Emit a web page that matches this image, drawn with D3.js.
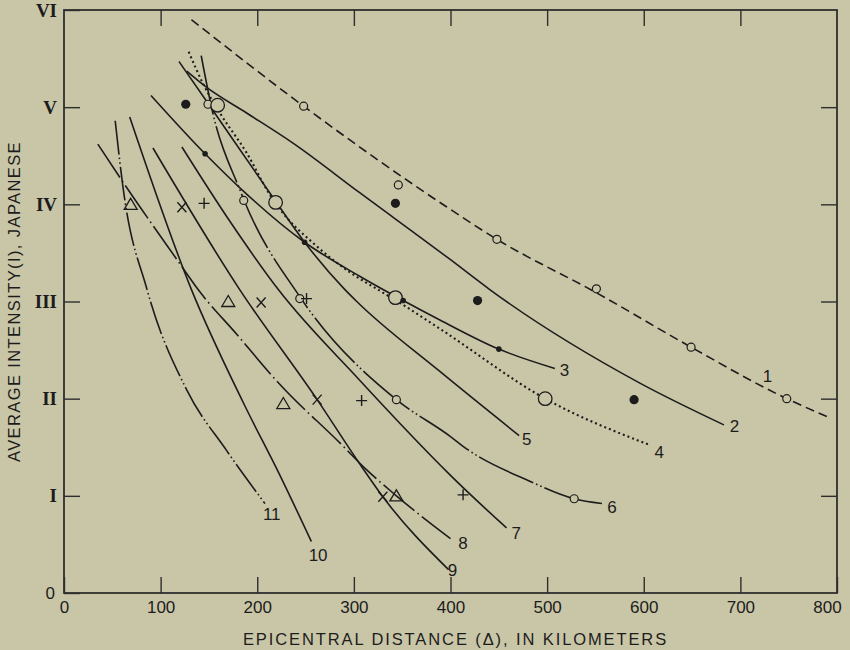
<!DOCTYPE html>
<html>
<head>
<meta charset="utf-8">
<script src="https://cdn.jsdelivr.net/npm/d3@7"></script>
<style>
  body { margin: 0; background: #c9c6a7; }
  .tick-x { font-family: "Liberation Sans", Arial, sans-serif; font-size: 17px; fill: #1c1c1c; }
  .tick-y { font-family: "Liberation Serif", "Times New Roman", serif; font-size: 19px; font-weight: bold; fill: #1c1c1c; }
  .axis-title { font-family: "Liberation Sans", Arial, sans-serif; font-size: 16.5px; letter-spacing: 1.9px; fill: #1c1c1c; }
  .curve-label { font-family: "Liberation Sans", Arial, sans-serif; font-size: 17px; fill: #1c1c1c; }
</style>
</head>
<body>
<div id="chart"></div>
<script>
// ---- data (distance km, intensity) ----
const curve1 = [[132,5.90],[248,5.01],[395,3.98],[448,3.64],[551,3.09],[649,2.53],[748,2.00],[791,1.81]];
const curve2 = [[127,5.37],[148,5.20],[189,4.94],[237,4.63],[306,4.12],[400,3.43],[441,3.12],[596,2.16],[683,1.73]];
const curve3 = [[90,5.12],[146,4.52],[182,4.17],[249,3.61],[306,3.26],[351,3.01],[389,2.81],[450,2.51],[508,2.31]];
const curve4 = [[129,5.57],[144,5.24],[162,4.93],[189,4.53],[213,4.10],[225,3.93],[258,3.60],[296,3.30],[327,3.11],[347,2.99],[389,2.72],[498,2.00],[607,1.52]];
const curve5 = [[119,5.47],[149,5.04],[217,4.06],[249,3.61],[290,3.13],[303,3.00],[389,2.28],[471,1.62]];
const curve6 = [[142,5.53],[154,4.94],[182,4.15],[186,4.05],[244,3.05],[344,1.99],[400,1.61],[413,1.51],[482,1.15],[528,0.97],[557,0.92]];
const curve7 = [[122,4.59],[172,3.82],[222,3.12],[306,2.19],[389,1.32],[400,1.21],[458,0.67]];
const curve8 = [[35,4.62],[61,4.23],[117,3.43],[139,3.12],[179,2.66],[224,2.14],[286,1.54],[313,1.27],[344,1.00],[400,0.56]];
const curve9 = [[92,4.58],[182,3.12],[262,1.99],[306,1.33],[330,0.99],[398,0.24]];
const curve10 = [[68,4.90],[132,3.12],[186,1.95],[224,1.20],[256,0.53]];
const curve11 = [[53,4.86],[61,4.18],[86,3.12],[127,2.09],[168,1.47],[208,0.92]];

const curveNames = ["1","2","3","4","5","6","7","8","9","10","11"];
const curveLabelX = [728, 694, 518, 616, 479, 567, 468, 413, 402, 263, 215];
const curveLabelY = [2.23, 1.72, 2.29, 1.45, 1.58, 0.88, 0.62, 0.51, 0.24, 0.39, 0.81];

// observed points
const openSmall = [[248,5.01],[346,4.20],[448,3.64],[551,3.13],[649,2.53],[748,2.00],[149,5.03],[186,4.04],[244,3.03],[344,1.99],[528,0.97]];
const openLarge = [[159,5.02],[219,4.02],[343,3.04],[498,2.00]];
const filledLarge = [[126,5.03],[343,4.01],[428,3.01],[590,1.99]];
const filledSmall = [[146,4.52],[249,3.61],[351,3.01],[450,2.51]];
const crosses = [[122,3.97],[204,2.99],[262,1.99],[330,0.99]];
const pluses = [[145,4.01],[251,3.03],[308,1.98],[413,1.01]];
const triangles = [[69,4.00],[170,3.00],[227,1.95],[344,1.00]];

const xTicks = [0,100,200,300,400,500,600,700,800];
const yTicks = [0,1,2,3,4,5,6];
const yTickLabels = ["0","I","II","III","IV","V","VI"];

//set margin
const margin = { top: 10, right: 13, bottom: 57, left: 64 };
const width = 850;
const height = 650;
const chartwidth = width - margin.left - margin.right;
const chartheight = height - margin.top - margin.bottom;

const svg = d3.select("#chart")
    .append("svg")
    .attr("width", width)
    .attr("height", height)
    .style("background", "#c9c6a7");

const g = svg.append("g")
    .attr("transform", "translate(" + margin.left + "," + margin.top + ")");

const xscale = d3.scaleLinear().domain([0, 800]).range([0, chartwidth]);
const yscale = d3.scaleLinear().domain([0, 6]).range([chartheight, 0]);

const ink = "#1c1c1c";
const tickLen = 16;

// frame
g.append("rect")
    .attr("width", chartwidth)
    .attr("height", chartheight)
    .attr("fill", "none")
    .attr("stroke", "#2e2e2e")
    .attr("stroke-width", 1.8);

// x axis (bottom, ticks pointing in) and mirrored top ticks
const xAxis = d3.axisBottom(xscale).tickValues(xTicks).tickSize(-tickLen).tickPadding(8).tickFormat(d3.format("d"));
const xAxisG = g.append("g").attr("transform", "translate(0," + chartheight + ")").call(xAxis);
const xTopG = g.append("g").call(d3.axisTop(xscale).tickValues(xTicks.slice(1, -1)).tickSize(-tickLen).tickFormat(""));

// y axis (left, ticks pointing in) and mirrored right ticks
const yAxis = d3.axisLeft(yscale).tickValues(yTicks).tickSize(-tickLen).tickPadding(7).tickFormat((d, i) => yTickLabels[i]);
const yAxisG = g.append("g").call(yAxis);
const yRightG = g.append("g").attr("transform", "translate(" + chartwidth + ",0)")
    .call(d3.axisRight(yscale).tickValues(yTicks.slice(1, -1)).tickSize(-tickLen).tickFormat(""));

[xAxisG, xTopG, yAxisG, yRightG].forEach(a => {
    a.select(".domain").remove();
    a.selectAll(".tick line").attr("stroke", "#2e2e2e").attr("stroke-width", 1.4);
});
xAxisG.selectAll("text").attr("class", "tick-x").attr("fill", null);
// last label sits a little inside the frame, as in the print
xAxisG.selectAll(".tick").filter(d => d === 800).select("text").attr("dx", -10);
yAxisG.selectAll("text").attr("class", "tick-y").attr("fill", null);
yAxisG.selectAll(".tick").filter(d => d === 0).select("text")
    .attr("class", "tick-x").attr("dx", -2);

// axis titles
svg.append("text")
    .attr("class", "axis-title")
    .attr("x", margin.left + chartwidth / 2 + 5)
    .attr("y", 645)
    .attr("text-anchor", "middle")
    .text("EPICENTRAL DISTANCE (\u0394), IN KILOMETERS");

svg.append("text")
    .attr("class", "axis-title")
    .attr("transform", "translate(20," + (margin.top + chartheight / 2) + ") rotate(-90)")
    .attr("text-anchor", "middle")
    .style("letter-spacing", "1.4px")
    .text("AVERAGE INTENSITY(I), JAPANESE");

// curves
const curves = [curve1, curve2, curve3, curve4, curve5, curve6, curve7, curve8, curve9, curve10, curve11];
const dashes = [
    "9,5",                 // 1 dashed
    null,                  // 2 solid
    null,                  // 3 solid
    "2,3",                 // 4 dotted
    null,                  // 5 solid
    "60,3,1.6,3,1.6,3",    // 6 long dash dot dot
    null,                  // 7 solid
    "40,4,1.6,4",          // 8 long dash dot
    null,                  // 9 solid
    null,                  // 10 solid
    "34,3,1.6,3,1.6,3"     // 11 dash dot dot
];

const line = d3.line()
    .x(d => xscale(d[0]))
    .y(d => yscale(d[1]))
    .curve(d3.curveMonotoneX);

g.append("g").selectAll("path")
    .data(curves)
    .join("path")
    .attr("d", line)
    .attr("fill", "none")
    .attr("stroke", ink)
    .attr("stroke-width", (d, i) => i === 3 ? 2.1 : 1.6)
    .attr("stroke-dasharray", (d, i) => dashes[i]);

// curve numbers
g.append("g").selectAll("text")
    .data(curveNames)
    .join("text")
    .attr("class", "curve-label")
    .attr("x", (d, i) => xscale(curveLabelX[i]))
    .attr("y", (d, i) => yscale(curveLabelY[i]))
    .attr("dy", "0.35em")
    .attr("text-anchor", "middle")
    .text(d => d);

// markers
const marks = g.append("g");
const bg = "#c9c6a7";

marks.selectAll(".os").data(openSmall).join("circle")
    .attr("cx", d => xscale(d[0])).attr("cy", d => yscale(d[1])).attr("r", 4)
    .attr("fill", bg).attr("stroke", ink).attr("stroke-width", 1.2);

marks.selectAll(".ol").data(openLarge).join("circle")
    .attr("cx", d => xscale(d[0])).attr("cy", d => yscale(d[1])).attr("r", 6.8)
    .attr("fill", bg).attr("stroke", ink).attr("stroke-width", 1.3);

marks.selectAll(".fl").data(filledLarge).join("circle")
    .attr("cx", d => xscale(d[0])).attr("cy", d => yscale(d[1])).attr("r", 4.6)
    .attr("fill", ink);

marks.selectAll(".fs").data(filledSmall).join("circle")
    .attr("cx", d => xscale(d[0])).attr("cy", d => yscale(d[1])).attr("r", 2.8)
    .attr("fill", ink);

marks.selectAll(".cx").data(crosses).join("path")
    .attr("transform", d => "translate(" + xscale(d[0]) + "," + yscale(d[1]) + ")")
    .attr("d", "M-4.5,-5L4.5,5M4.5,-5L-4.5,5")
    .attr("stroke", ink).attr("stroke-width", 1.4);

marks.selectAll(".px").data(pluses).join("path")
    .attr("transform", d => "translate(" + xscale(d[0]) + "," + yscale(d[1]) + ")")
    .attr("d", "M-5.5,0L5.5,0M0,-5.5L0,5.5")
    .attr("stroke", ink).attr("stroke-width", 1.4);

marks.selectAll(".tr").data(triangles).join("path")
    .attr("transform", d => "translate(" + xscale(d[0]) + "," + yscale(d[1]) + ")")
    .attr("d", "M0,-6L6.5,5L-6.5,5Z")
    .attr("fill", "none").attr("stroke", ink).attr("stroke-width", 1.3);
</script>
</body>
</html>
